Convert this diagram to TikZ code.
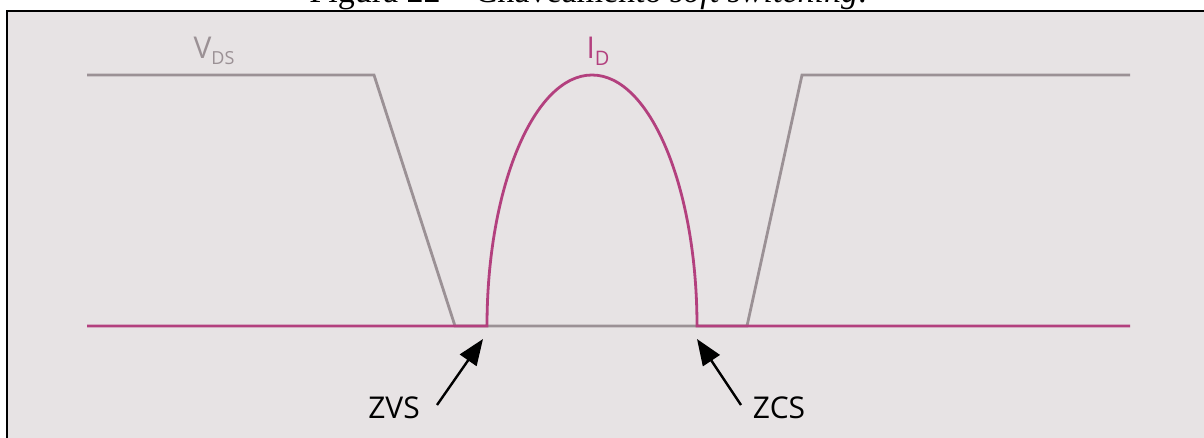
\documentclass[tikz,border=0pt]{standalone}
\usepackage{fontspec}
\setmainfont{Liberation Serif}
\newfontfamily\labfont{Open Sans}
\usetikzlibrary{arrows.meta}
\definecolor{bgc}{HTML}{E7E3E4}
\definecolor{vdsc}{HTML}{9B9195}
\definecolor{idc}{HTML}{B3407E}
\tikzset{
  wave/.style={line width=2.8pt, line join=miter},
  callout/.style={line width=2.4pt, -{Triangle[length=26pt,width=20pt]}},
  lab/.style={font=\labfont\fontsize{30}{32}\selectfont, inner sep=0pt, anchor=base},
}
\begin{document}
\begin{tikzpicture}[x=1pt,y=-1pt]
\useasboundingbox (0,0) rectangle (1204,437);
\fill[white] (0,0) rectangle (1204,437);
\fill[bgc] (7,11) rectangle (1210,440);
\draw[line width=2pt, black] (6.5,445) -- (6.5,11) -- (1210,11);
% caption (cut off at the top, as in the reference)
\node[anchor=base, inner sep=0pt, font=\fontsize{34}{36}\selectfont] (cap) at (588,2) {Figura 22 -- Chaveamento \textit{soft switching}.};
% VDS waveform
\coordinate (v1) at (87,75);
\coordinate (v2) at (374,75);
\coordinate (v3) at (455,326);
\coordinate (v4) at (747,326);
\coordinate (v5) at (802,75);
\coordinate (v6) at (1130,75);
\draw[wave, vdsc] (v1) -- (v2) -- (v3) -- (v4) -- (v5) -- (v6);
% ID waveform
\coordinate (i1) at (87,326);
\coordinate (i2) at (487,326);
\coordinate (i3) at (697,326);
\coordinate (i4) at (1130,326);
\draw[wave, idc] (i1) -- (i2) arc[start angle=180, end angle=0, x radius=105, y radius=-251] -- (i4);
% labels
\node[lab, vdsc] (vds) at (214,58) {V\raisebox{-6pt}{\fontsize{18}{19}\selectfont DS}};
\node[lab, idc] (id) at (598,58) {I\raisebox{-7pt}{\fontsize{20}{21}\selectfont D}};
\node[lab, black] (zvs) at (394,418) {ZVS};
\node[lab, black] (zcs) at (779,418) {ZCS};
\coordinate (zvsTip) at (483,339);
\coordinate (zcsTip) at (697,339);
\coordinate (zvsTail) at (437,405);
\coordinate (zcsTail) at (741,405);
\draw[callout] (zvsTail) -- (zvsTip);
\draw[callout] (zcsTail) -- (zcsTip);
\end{tikzpicture}
\end{document}
